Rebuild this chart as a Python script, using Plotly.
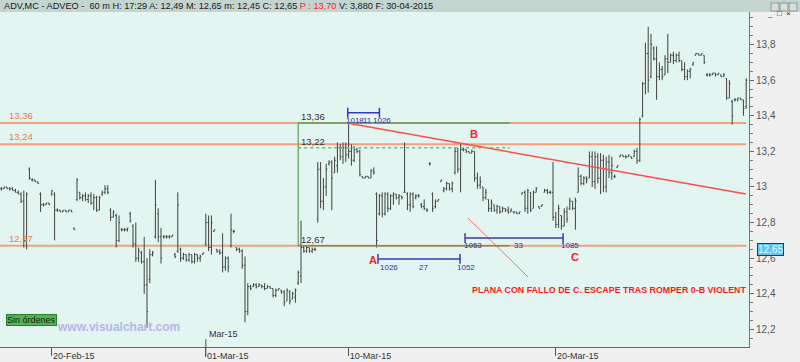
import plotly.graph_objects as go

# ---------------- data ----------------
highs = [13.00,13.00,13.00,13.00,13.00,12.99,12.98,12.97,12.98,12.97,
         13.11,13.05,13.04,13.03,12.97,12.91,12.91,12.91,12.98,12.97,
         12.88,12.87,12.87,12.87,12.87,12.87,12.77,13.05,12.97,12.96,
         12.97,12.96,12.97,12.96,12.95,12.95,12.98,13.01,13.01,12.88,
         12.87,12.85,12.84,12.77,12.77,12.77,12.86,12.79,12.80,12.66,
         12.64,12.72,12.60,12.65,12.64,13.04,12.88,12.77,12.73,12.73,
         12.73,12.73,12.63,12.97,12.66,12.63,12.62,12.63,12.62,12.63,
         12.62,12.62,12.63,12.85,12.84,12.84,12.76,12.65,12.65,12.74,
         12.61,12.61,12.85,12.76,12.66,12.66,12.65,12.61,12.46,12.45,
         12.46,12.46,12.46,12.45,12.46,12.45,12.44,12.43,12.43,12.43,
         12.42,12.42,12.43,12.42,12.41,12.43,12.53,12.81,12.67,12.67,
         12.66,12.66,12.66,13.14,13.14,13.05,13.13,13.15,13.15,13.17,
         13.25,13.24,13.25,13.25,13.36,13.24,13.23,13.22,13.21,13.06,
         13.06,13.06,13.10,13.11,12.97,12.96,12.97,12.97,12.97,12.96,
         12.97,12.96,12.96,12.95,13.25,12.97,12.97,12.97,12.96,12.96,
         12.91,12.93,12.88,13.14,12.97,12.93,12.93,13.04,13.00,13.03,
         13.02,13.03,13.22,13.22,13.24,13.22,13.21,13.20,13.21,13.20,
         13.08,13.06,13.00,12.99,12.93,12.93,12.90,12.90,12.89,12.89,
         12.88,12.89,12.88,12.86,12.86,12.86,12.97,12.98,12.99,12.97,
         12.98,13.00,12.89,12.90,12.99,12.99,12.98,13.14,12.86,12.90,
         12.84,12.88,12.89,12.94,12.92,12.94,13.11,13.07,13.06,13.06,
         13.20,13.20,13.20,13.19,13.19,13.18,13.17,13.18,13.17,13.07,
         13.12,13.18,13.18,13.18,13.18,13.17,13.21,13.22,13.39,13.59,
         13.81,13.90,13.86,13.79,13.79,13.70,13.68,13.74,13.86,13.75,
         13.76,13.75,13.76,13.71,13.70,13.66,13.67,13.70,13.75,13.75,
         13.75,13.74,13.64,13.64,13.64,13.64,13.64,13.63,13.64,13.61,
         13.60,13.49,13.50,13.50,13.50,13.49,13.61]
lows = [12.98,12.99,12.99,12.98,12.98,12.97,12.96,12.91,12.66,12.65,
        13.04,13.03,13.03,13.02,12.86,12.89,12.90,12.90,12.95,12.70,
        12.86,12.86,12.86,12.86,12.86,12.86,12.76,12.92,12.93,12.92,
        12.92,12.91,12.90,12.87,12.86,12.87,12.95,12.96,12.96,12.81,
        12.83,12.66,12.69,12.75,12.75,12.75,12.80,12.66,12.58,12.58,
        12.57,12.40,12.21,12.46,12.61,12.71,12.69,12.57,12.71,12.71,
        12.71,12.72,12.60,12.63,12.58,12.59,12.58,12.58,12.57,12.57,
        12.58,12.58,12.62,12.67,12.64,12.62,12.75,12.63,12.62,12.52,
        12.53,12.52,12.66,12.74,12.64,12.63,12.54,12.24,12.28,12.42,
        12.44,12.43,12.44,12.43,12.42,12.43,12.43,12.38,12.38,12.42,
        12.40,12.33,12.36,12.34,12.37,12.35,12.45,12.46,12.63,12.63,
        12.63,12.63,12.64,12.80,12.88,12.87,12.95,13.12,12.87,13.08,
        13.08,13.15,13.13,13.14,13.16,13.12,13.14,13.19,13.06,13.05,
        13.05,13.05,13.05,13.07,12.66,12.84,12.83,12.84,12.86,12.87,
        12.90,12.93,12.90,12.93,12.97,12.87,12.86,12.88,12.93,12.94,
        12.88,12.87,12.86,13.12,12.86,12.88,12.92,13.03,12.97,12.98,
        12.98,12.97,13.07,13.08,12.97,13.20,13.19,13.19,13.19,13.03,
        12.99,12.99,12.92,12.93,12.86,12.86,12.86,12.85,12.85,12.86,
        12.86,12.85,12.86,12.85,12.85,12.85,12.96,12.86,12.85,12.86,
        12.88,12.97,12.88,12.89,12.97,12.96,12.96,12.81,12.77,12.77,
        12.76,12.78,12.80,12.87,12.87,12.76,12.97,13.01,13.01,13.02,
        13.05,13.00,12.99,13.02,12.96,12.97,12.97,13.05,13.04,13.05,
        13.11,13.17,13.17,13.16,13.17,13.16,13.17,13.13,13.14,13.39,
        13.52,13.53,13.61,13.71,13.49,13.60,13.60,13.63,13.64,13.70,
        13.69,13.70,13.70,13.65,13.60,13.60,13.61,13.68,13.74,13.74,
        13.74,13.69,13.62,13.62,13.63,13.62,13.63,13.62,13.62,13.49,
        13.50,13.35,13.48,13.48,13.49,13.40,13.44]
opens = [12.99,12.99,13.00,12.99,12.99,12.98,12.97,12.96,12.92,12.70,
         13.10,13.04,13.04,13.03,12.96,12.90,12.90,12.91,12.96,12.96,
         12.87,12.87,12.86,12.87,12.86,12.87,12.77,12.93,12.97,12.94,
         12.95,12.93,12.95,12.91,12.94,12.87,12.96,12.97,12.99,12.87,
         12.83,12.84,12.70,12.76,12.76,12.76,12.85,12.78,12.68,12.60,
         12.63,12.58,12.45,12.48,12.62,12.72,12.85,12.72,12.72,12.72,
         12.72,12.72,12.62,12.64,12.65,12.60,12.62,12.59,12.62,12.58,
         12.62,12.60,12.62,12.68,12.80,12.66,12.75,12.65,12.64,12.63,
         12.55,12.60,12.67,12.75,12.66,12.65,12.64,12.56,12.30,12.44,
         12.44,12.45,12.44,12.45,12.44,12.43,12.44,12.43,12.39,12.42,
         12.42,12.41,12.36,12.41,12.37,12.38,12.46,12.50,12.66,12.64,
         12.66,12.64,12.65,12.82,13.10,12.92,13.00,13.13,13.14,13.08,
         13.12,13.22,13.17,13.22,13.18,13.20,13.15,13.21,13.20,13.06,
         13.05,13.06,13.05,13.09,12.96,12.85,12.95,12.85,12.96,12.88,
         12.95,12.96,12.94,12.95,12.97,12.96,12.90,12.96,12.94,12.95,
         12.90,12.89,12.87,13.13,12.96,12.89,12.92,13.03,12.98,12.99,
         13.02,12.99,13.08,13.20,13.10,13.21,13.21,13.20,13.19,13.20,
         13.05,13.01,13.00,12.94,12.93,12.88,12.90,12.87,12.89,12.86,
         12.88,12.87,12.86,12.86,12.86,12.85,12.96,12.97,12.88,12.97,
         12.88,12.97,12.89,12.89,12.97,12.98,12.97,12.97,12.83,12.79,
         12.84,12.78,12.86,12.88,12.92,12.88,12.97,13.06,13.02,13.05,
         13.05,13.17,13.03,13.17,13.05,13.15,13.00,13.14,13.08,13.06,
         13.11,13.17,13.18,13.17,13.17,13.17,13.17,13.20,13.15,13.40,
         13.58,13.75,13.62,13.78,13.72,13.62,13.66,13.63,13.72,13.70,
         13.74,13.71,13.74,13.71,13.66,13.62,13.65,13.69,13.74,13.75,
         13.74,13.74,13.63,13.63,13.63,13.64,13.63,13.63,13.62,13.61,
         13.50,13.48,13.49,13.49,13.50,13.49,13.45]
closes = [12.99,13.00,12.99,12.99,12.98,12.97,12.96,12.92,12.70,12.96,
          13.05,13.04,13.03,13.02,12.90,12.90,12.91,12.90,12.98,12.87,
          12.87,12.86,12.87,12.86,12.87,12.86,12.76,13.04,12.94,12.95,
          12.93,12.95,12.91,12.94,12.87,12.94,12.97,12.99,12.97,12.83,
          12.86,12.70,12.80,12.76,12.76,12.77,12.81,12.68,12.60,12.64,
          12.58,12.45,12.30,12.62,12.63,12.90,12.72,12.60,12.72,12.72,
          12.72,12.73,12.61,12.90,12.60,12.62,12.59,12.62,12.58,12.62,
          12.60,12.61,12.63,12.80,12.66,12.80,12.76,12.64,12.63,12.55,
          12.60,12.55,12.76,12.75,12.65,12.64,12.56,12.30,12.44,12.43,
          12.45,12.44,12.45,12.44,12.43,12.44,12.43,12.39,12.42,12.43,
          12.41,12.35,12.42,12.36,12.40,12.42,12.52,12.66,12.64,12.66,
          12.64,12.65,12.65,13.10,12.92,13.00,13.10,13.14,13.05,13.15,
          13.22,13.17,13.22,13.18,13.20,13.15,13.21,13.20,13.07,13.05,
          13.06,13.05,13.09,13.08,12.70,12.95,12.85,12.96,12.88,12.95,
          12.96,12.94,12.95,12.94,12.97,12.90,12.96,12.89,12.95,12.95,
          12.89,12.88,12.87,13.13,12.88,12.92,12.93,13.04,12.99,13.02,
          12.99,13.02,13.20,13.10,13.21,13.21,13.20,13.19,13.20,13.05,
          13.01,13.03,12.94,12.97,12.88,12.91,12.87,12.89,12.86,12.88,
          12.87,12.86,12.87,12.86,12.85,12.86,12.97,12.88,12.98,12.87,
          12.97,12.99,12.88,12.90,12.98,12.97,12.97,12.83,12.79,12.88,
          12.78,12.86,12.82,12.92,12.88,12.92,13.06,13.02,13.05,13.04,
          13.17,13.03,13.17,13.05,13.15,13.00,13.14,13.08,13.12,13.06,
          13.12,13.18,13.17,13.17,13.18,13.16,13.20,13.15,13.38,13.58,
          13.75,13.60,13.80,13.72,13.62,13.66,13.62,13.72,13.70,13.74,
          13.71,13.74,13.71,13.66,13.62,13.65,13.66,13.70,13.75,13.74,
          13.75,13.70,13.63,13.63,13.64,13.63,13.64,13.62,13.63,13.50,
          13.58,13.40,13.49,13.50,13.49,13.44,13.60]
bars = list(range(len(highs)))

tick_bars = [18, 73, 124, 198]
tick_labels = ["20-Feb-15", "01-Mar-15", "10-Mar-15", "20-Mar-15"]

levels = [13.36, 13.24, 12.67]
level_labels = ["13,36", "13,24", "12,67"]

box_levels = [13.36, 13.22, 12.67]
box_labels = ["13,36", "13,22", "12,67"]
box_bars = [106, 181.5]

trend_x = [123.4, 265.9]
trend_y = [13.36, 12.96]
thin_x = [166.6, 188.1]
thin_y = [12.826, 12.494]

meas_x = [[123.7, 135.0], [134.5, 163.8], [165.6, 200.6]]
meas_y = [13.417, 12.596, 12.713]
meas_text_x = [[126.3, 130.8, 136.0], [138.3, 150.9, 166.1], [168.6, 184.5, 203.1]]
meas_text_y = [13.376, 12.545, 12.669]
meas_texts = [["1018", "11", "1026"], ["1026", "27", "1052"], ["1053", "33", "1085"]]

points = ["A", "B", "C"]
points_x = [132.7, 168.8, 204.9]
points_y = [12.59, 13.298, 12.607]

last_value = 12.65

# ---------------- figure ----------------
W, H = 800, 362
L, R, T, B = 0, 51, 12, 15
PW, PH = W - L - R, H - T - B


def px(x):
    return (x - L) / PW


def py(y):
    return (H - B - y) / PH


fig = go.Figure()

fig.add_trace(go.Ohlc(
    x=bars, open=opens, high=highs, low=lows, close=closes,
    increasing=dict(line=dict(color="#404040", width=1)),
    decreasing=dict(line=dict(color="#404040", width=1)),
    tickwidth=0.4, hoverinfo="skip", showlegend=False))

shapes = []
for lvl in levels:
    shapes.append(dict(type="line", xref="x", yref="y", x0=-0.5, x1=266, y0=lvl, y1=lvl,
                       line=dict(color="#f4a07e", width=2), layer="below"))
# green box
shapes.append(dict(type="line", xref="x", yref="y", x0=box_bars[0], x1=box_bars[1],
                   y0=box_levels[0], y1=box_levels[0], line=dict(color="#5e9e5e", width=1.5)))
shapes.append(dict(type="line", xref="x", yref="y", x0=box_bars[0], x1=box_bars[1],
                   y0=box_levels[2], y1=box_levels[2], line=dict(color="#5e9e5e", width=1.5)))
shapes.append(dict(type="line", xref="x", yref="y", x0=box_bars[0], x1=box_bars[0],
                   y0=box_levels[2], y1=box_levels[0], line=dict(color="#5e9e5e", width=1.2)))
shapes.append(dict(type="line", xref="x", yref="y", x0=box_bars[0], x1=box_bars[1],
                   y0=box_levels[1], y1=box_levels[1],
                   line=dict(color="#6cbf6c", width=1.5, dash="dot")))
# title bar
shapes.append(dict(type="rect", xref="paper", yref="paper", x0=px(0), x1=px(800),
                   y0=py(12), y1=py(0), fillcolor="#c4d4cf", line=dict(width=0)))
# window buttons
for bx in [771, 780, 789]:
    shapes.append(dict(type="rect", xref="paper", yref="paper", x0=px(bx), x1=px(bx + 8),
                       y0=py(11), y1=py(3), fillcolor="#d8dcdc",
                       line=dict(color="#8a9a98", width=1)))
# month marker
shapes.append(dict(type="line", xref="x", yref="paper", x0=tick_bars[1], x1=tick_bars[1],
                   y0=py(357), y1=py(339), line=dict(color="#555", width=1)))
fig.update_layout(shapes=shapes)

# trend lines
fig.add_trace(go.Scatter(x=trend_x, y=trend_y, mode="lines",
                         line=dict(color="#ff4d4d", width=1.5), hoverinfo="skip", showlegend=False))
fig.add_trace(go.Scatter(x=thin_x, y=thin_y, mode="lines",
                         line=dict(color="#ff4d4d", width=0.8), hoverinfo="skip", showlegend=False))
# measurement lines
for mx, my in zip(meas_x, meas_y):
    fig.add_trace(go.Scatter(x=mx, y=[my, my], mode="lines+markers",
                             line=dict(color="#3838b0", width=1.5),
                             marker=dict(symbol="line-ns-open", size=7,
                                         line=dict(color="#3838b0", width=1.5)),
                             hoverinfo="skip", showlegend=False))

ann = []
for lvl, lab in zip(levels, level_labels):
    ann.append(dict(x=px(7), xref="paper", y=lvl, yref="y", text=lab, showarrow=False,
                    xanchor="left", yanchor="bottom", yshift=0,
                    font=dict(size=9.5, color="#f07a40")))
for lvl, lab in zip(box_levels, box_labels):
    ann.append(dict(x=box_bars[0], xref="x", y=lvl, yref="y", text=lab, showarrow=False,
                    xanchor="left", yanchor="bottom", xshift=1, yshift=-1,
                    font=dict(size=9.5, color="#333333")))
for xs, yv, ts in zip(meas_text_x, meas_text_y, meas_texts):
    for xv, tv in zip(xs, ts):
        ann.append(dict(x=xv, y=yv, xref="x", yref="y", text=tv, showarrow=False,
                        font=dict(size=8, color="#3030a8")))
for t, xv, yv in zip(points, points_x, points_y):
    ann.append(dict(x=xv, y=yv, xref="x", yref="y", text="<b>%s</b>" % t, showarrow=False,
                    font=dict(size=11, color="#ff2020")))
ann.append(dict(x=167.4, y=12.421, xref="x", yref="y", xanchor="left",
                text="<b>PLANA CON FALLO DE C. ESCAPE TRAS ROMPER 0-B VIOLENT</b>",
                showarrow=False, font=dict(size=8.85, color="#ff1a1a")))
# header
ann.append(dict(x=px(2), y=py(6), xref="paper", yref="paper", xanchor="left",
                yanchor="middle", showarrow=False,
                text=("ADV,MC - ADVEO -  60 m H: 17:29 A: 12,49 M: 12,65 m: 12,45 C: 12,65 "
                      "<span style='color:#ff2020'>P : 13,70</span> V: 3,880 F: 30-04-2015"),
                font=dict(size=9.2, color="#1a1a1a", family="Liberation Sans")))
for bx, g in zip([771, 780, 789], ["_", "□", "×"]):
    ann.append(dict(x=px(bx + 4), y=py(7), xref="paper", yref="paper", showarrow=False,
                    text=g, font=dict(size=8, color="#222")))
# Sin ordenes
ann.append(dict(x=px(6), y=py(325.5), xref="paper", yref="paper", xanchor="left",
                showarrow=False, text="Sin órdenes", bgcolor="#52b352",
                bordercolor="#2e7d2e", borderwidth=1, borderpad=0,
                font=dict(size=9, color="#1a1a1a")))
ann.append(dict(x=px(55), y=py(336), xref="paper", yref="paper", xanchor="left",
                showarrow=False, text="<b>www.visualchart.com</b>",
                font=dict(size=12, color="#b6b6e8")))
ann.append(dict(x=tick_bars[1], y=py(341), xref="x", yref="paper", xanchor="left",
                xshift=1, showarrow=False, text="Mar-15",
                font=dict(size=9, color="#333")))
ann.append(dict(x=px(757), y=last_value, xref="paper", yref="y", xanchor="left",
                showarrow=False, text="12,65", bgcolor="#5cc6f2",
                bordercolor="#335", borderwidth=1, borderpad=0,
                font=dict(size=10, color="#e8f8ff")))
fig.update_layout(annotations=ann)

fig.update_layout(
    width=W, height=H,
    margin=dict(l=L, r=R, t=T, b=B, autoexpand=False),
    paper_bgcolor="#f0f0f0", plot_bgcolor="#e2f5f0",
    separators=",.", showlegend=False,
    font=dict(family="Liberation Sans"),
    xaxis=dict(range=[-0.5, 267.0], rangeslider=dict(visible=False), showgrid=False,
               zeroline=False, tickvals=tick_bars, ticktext=tick_labels,
               ticks="outside", ticklen=8, tickcolor="#555", showline=True,
               linecolor="#666", tickfont=dict(size=9, color="#333"),
               ticklabelshift=22, ticklabelstandoff=-8, automargin=False),
    yaxis=dict(side="right", range=[12.101, 13.983], dtick=0.2, tick0=12.2,
               showgrid=False, zeroline=False, ticks="outside", ticklen=4,
               tickcolor="#666", showline=True, linecolor="#777",
               tickfont=dict(size=10, color="#555"), automargin=False,
               minor=dict(dtick=0.05, ticks="outside", ticklen=3, tickcolor="#777")),
)

fig.write_html("out.html")
